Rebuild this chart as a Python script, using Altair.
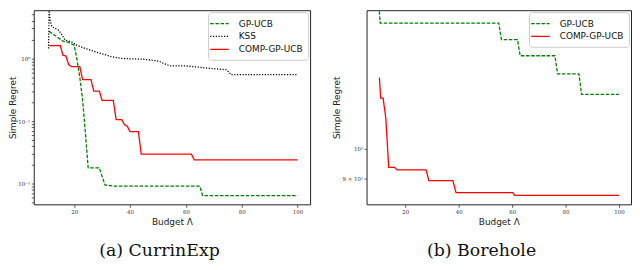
import altair as alt
import pandas as pd

# ---------------- (a) CurrinExp ----------------
ce_gp_x = [11, 13, 16, 18, 20, 21, 22, 23, 24, 25, 29, 31, 34, 65, 66, 100]
ce_gp_y = [2.7, 2.35, 1.88, 1.8, 1.62, 0.95, 0.5, 0.22, 0.065, 0.018, 0.018, 0.0096, 0.0092, 0.0092, 0.0065, 0.0065]

ce_kss_x = [10.8, 11.0, 11.5, 12, 13, 14.5, 15.7, 16.8, 19, 21, 24, 27, 29, 31, 33, 37, 45, 50, 53, 54.5, 60, 68, 74.5, 75.5, 76.2, 100]
ce_kss_y = [1.44, 5.8, 3.8, 3.2, 3.05, 2.8, 2.34, 1.95, 1.85, 1.62, 1.44, 1.3, 1.22, 1.15, 1.08, 1.0, 0.97, 0.91, 0.8, 0.76, 0.76, 0.7, 0.66, 0.6, 0.55, 0.55]

ce_comp_x = [11, 15, 16, 17, 18, 19, 22, 23, 26, 27, 29, 30, 34, 35, 37, 38, 39, 40, 43, 44, 62, 63, 100]
ce_comp_y = [1.6, 1.6, 1.12, 1.1, 0.8, 0.74, 0.74, 0.46, 0.46, 0.3, 0.3, 0.215, 0.215, 0.106, 0.106, 0.088, 0.083, 0.068, 0.068, 0.0297, 0.0297, 0.0242, 0.0242]

# ---------------- (b) Borehole ----------------
bh_gp_x = [10.3, 10.6, 55, 56, 62, 63, 76, 77, 85, 86, 100]
bh_gp_y = [161.2, 154.7, 154.7, 146.1, 146.1, 138.1, 138.1, 129.7, 129.7, 120.8, 120.8]

bh_comp_x = [10.3, 10.8, 11.7, 12.7, 13.8, 16, 16.9, 27.8, 28.8, 37.8, 39, 60.2, 61, 100]
bh_comp_y = [128.0, 119.2, 119.2, 111.3, 93.7, 93.7, 92.9, 92.9, 89.5, 89.5, 85.8, 85.8, 85.0, 85.0]

x_ticks = [20, 40, 60, 80, 100]
ce_y_ticks = [0.005, 0.006, 0.007, 0.008, 0.009, 0.01, 0.02, 0.03, 0.04, 0.05, 0.06, 0.07, 0.08, 0.09,
              0.1, 0.2, 0.3, 0.4, 0.5, 0.6, 0.7, 0.8, 0.9, 1, 2, 3, 4, 5]
bh_y_ticks = [90, 100]

names_a = ["GP-UCB", "KSS", "COMP-GP-UCB"]
colors_a = ["#008000", "#000000", "#ff0000"]
dashes_a = [[3.6, 1.6], [1.2, 1.6], [1, 0]]
names_b = ["GP-UCB", "COMP-GP-UCB"]
colors_b = ["#008000", "#ff0000"]
dashes_b = [[3.6, 1.6], [1, 0]]


def frame(xs, ys, name):
    return pd.DataFrame({"x": xs, "y": ys, "series": name, "i": range(len(xs))})


df_a = pd.concat([frame(ce_gp_x, ce_gp_y, "GP-UCB"),
                  frame(ce_kss_x, ce_kss_y, "KSS"),
                  frame(ce_comp_x, ce_comp_y, "COMP-GP-UCB")])
df_b = pd.concat([frame(bh_gp_x, bh_gp_y, "GP-UCB"),
                  frame(bh_comp_x, bh_comp_y, "COMP-GP-UCB")])

tick_font = "DejaVu Serif"
title_font = "DejaVu Sans"

legend_kw = dict(title=None, orient="top-right", offset=2, fillColor="white",
                 strokeColor="#cccccc", cornerRadius=3, padding=5,
                 labelFont=title_font, labelFontSize=9, labelColor="#111",
                 symbolType="M-1.7,0L1.7,0", symbolSize=121, symbolStrokeWidth=1.3,
                 symbolFillColor="transparent",
                 rowPadding=1, labelOffset=13)


def xaxis():
    return alt.Axis(values=x_ticks, title="Budget Λ", titleFont=title_font, titleFontSize=9,
                    titleFontWeight="normal", titleColor="#222", titlePadding=3,
                    labelFont=tick_font, labelFontSize=5.5, labelColor="#333", labelPadding=2,
                    tickSize=3, tickColor="#333", tickWidth=0.8, domain=False, grid=False)


def yaxis(values, expr, tp):
    return alt.Axis(values=values, labelExpr=expr, title="Simple Regret", titleFont=title_font,
                    titleFontSize=9, titleFontWeight="normal", titleColor="#222", titlePadding=tp,
                    labelFont=tick_font, labelFontSize=5.5, labelColor="#333", labelPadding=1.5,
                    tickSize=2.5, tickColor="#333", tickWidth=0.8, domain=False, grid=False)


ce_expr = ("datum.value == 1 ? '10⁰' : (abs(datum.value - 0.1) < 1e-9 ? '10⁻¹' : "
           "(abs(datum.value - 0.01) < 1e-9 ? '10⁻²' : ''))")
bh_expr = "datum.value == 100 ? '10²' : (datum.value == 90 ? '9 × 10¹' : '')"

left = alt.Chart(df_a).mark_line(strokeWidth=1.3, clip=True).encode(
    x=alt.X("x:Q", scale=alt.Scale(domain=[5.5, 104.5], nice=False, zero=False), axis=xaxis()),
    y=alt.Y("y:Q", scale=alt.Scale(type="log", domain=[0.00471, 5.88], nice=False), axis=yaxis(ce_y_ticks, ce_expr, 0)),
    color=alt.Color("series:N", scale=alt.Scale(domain=names_a, range=colors_a), legend=alt.Legend(**legend_kw)),
    strokeDash=alt.StrokeDash("series:N", scale=alt.Scale(domain=names_a, range=dashes_a), legend=alt.Legend(**legend_kw)),
    order="i:Q",
).properties(width=279, height=196,
             title=alt.TitleParams("(a) CurrinExp", orient="bottom", font="DejaVu Serif", fontSize=17.5,
                                   fontWeight="normal", color="#111", offset=16, frame="bounds", anchor="middle"))

right = alt.Chart(df_b).mark_line(strokeWidth=1.3, clip=True).encode(
    x=alt.X("x:Q", scale=alt.Scale(domain=[5.5, 104.5], nice=False, zero=False), axis=xaxis()),
    y=alt.Y("y:Q", scale=alt.Scale(type="log", domain=[82.4, 161.8], nice=False), axis=yaxis(bh_y_ticks, bh_expr, 1)),
    color=alt.Color("series:N", scale=alt.Scale(domain=names_b, range=colors_b), legend=alt.Legend(**legend_kw)),
    strokeDash=alt.StrokeDash("series:N", scale=alt.Scale(domain=names_b, range=dashes_b), legend=alt.Legend(**legend_kw)),
    order="i:Q",
).properties(width=267, height=196,
             title=alt.TitleParams("(b) Borehole", orient="bottom", font="DejaVu Serif", fontSize=17.5,
                                   fontWeight="normal", color="#111", offset=16, frame="bounds", anchor="middle"))

chart = alt.hconcat(left, right, spacing=20).resolve_scale(
    color="independent", strokeDash="independent", x="independent", y="independent"
).properties(padding=0).configure_view(stroke="#222", strokeWidth=1)

chart.save("out.html", embed_options={"renderer": "svg", "actions": False})
